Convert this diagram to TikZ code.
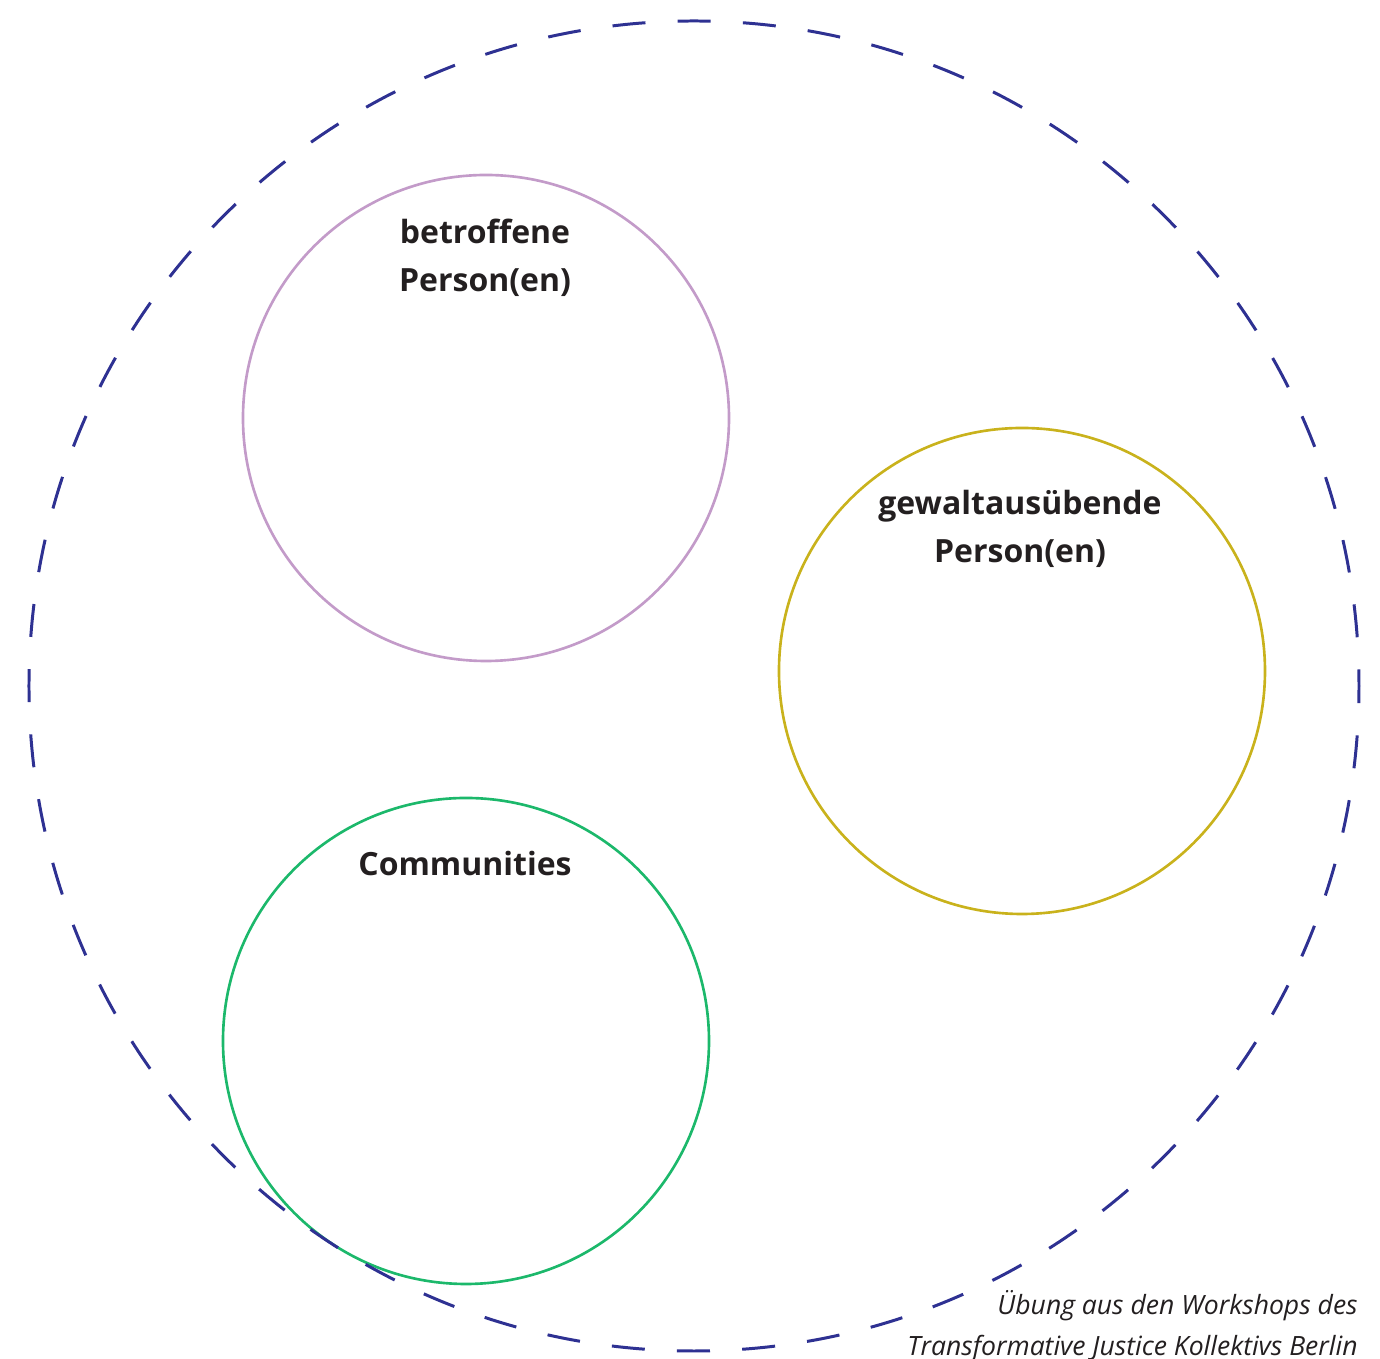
\documentclass[tikz,border=0pt]{standalone}
\usepackage{fontspec}
\setmainfont{Open Sans}
\usepackage{xcolor}
\definecolor{ringblue}{HTML}{2E3192}
\definecolor{lila}{HTML}{C39BC9}
\definecolor{gold}{HTML}{C9B21C}
\definecolor{gruen}{HTML}{1CB86B}
\definecolor{schrift}{HTML}{231F20}

\begin{document}
\begin{tikzpicture}[scale=0.2]
\tikzstyle{every node}+=[inner sep=0pt, text=schrift]
\tikzstyle{titel}=[align=center, anchor=base, font=\fontsize{18.2}{27.6}\selectfont\bfseries]
\tikzstyle{kreis}=[line width=1.5pt]
\useasboundingbox (0,0) rectangle (138,-135.9);
\coordinate (mitte) at (69.4,-68.6);
\coordinate (betroffenM) at (48.6,-41.8);
\coordinate (gewaltM) at (102.2,-67.1);
\coordinate (communityM) at (46.6,-104.1);
\draw [lila, kreis] (betroffenM) circle (24.3);
\draw [gold, kreis] (gewaltM) circle (24.3);
\draw [gruen, kreis] (communityM) circle (24.3);
\draw [ringblue, line width=1.7pt, dash pattern=on 18.8pt off 18.35pt, dash phase=9.4pt] (mitte) circle (66.5);
\node [titel] (betroffen) at (48.5,-29.2) {betroffene\\Person(en)};
\node [titel] (gewalt) at (102,-56.3) {gewaltausübende\\Person(en)};
\node [titel] (community) at (46.5,-87.5) {Communities};
\node [align=right, anchor=base east, font=\fontsize{15.1}{22.8}\selectfont\itshape] (quelle) at (135.8,-135.5) {Übung aus den Workshops des\\Transformative Justice Kollektivs Berlin};
\end{tikzpicture}
\end{document}
